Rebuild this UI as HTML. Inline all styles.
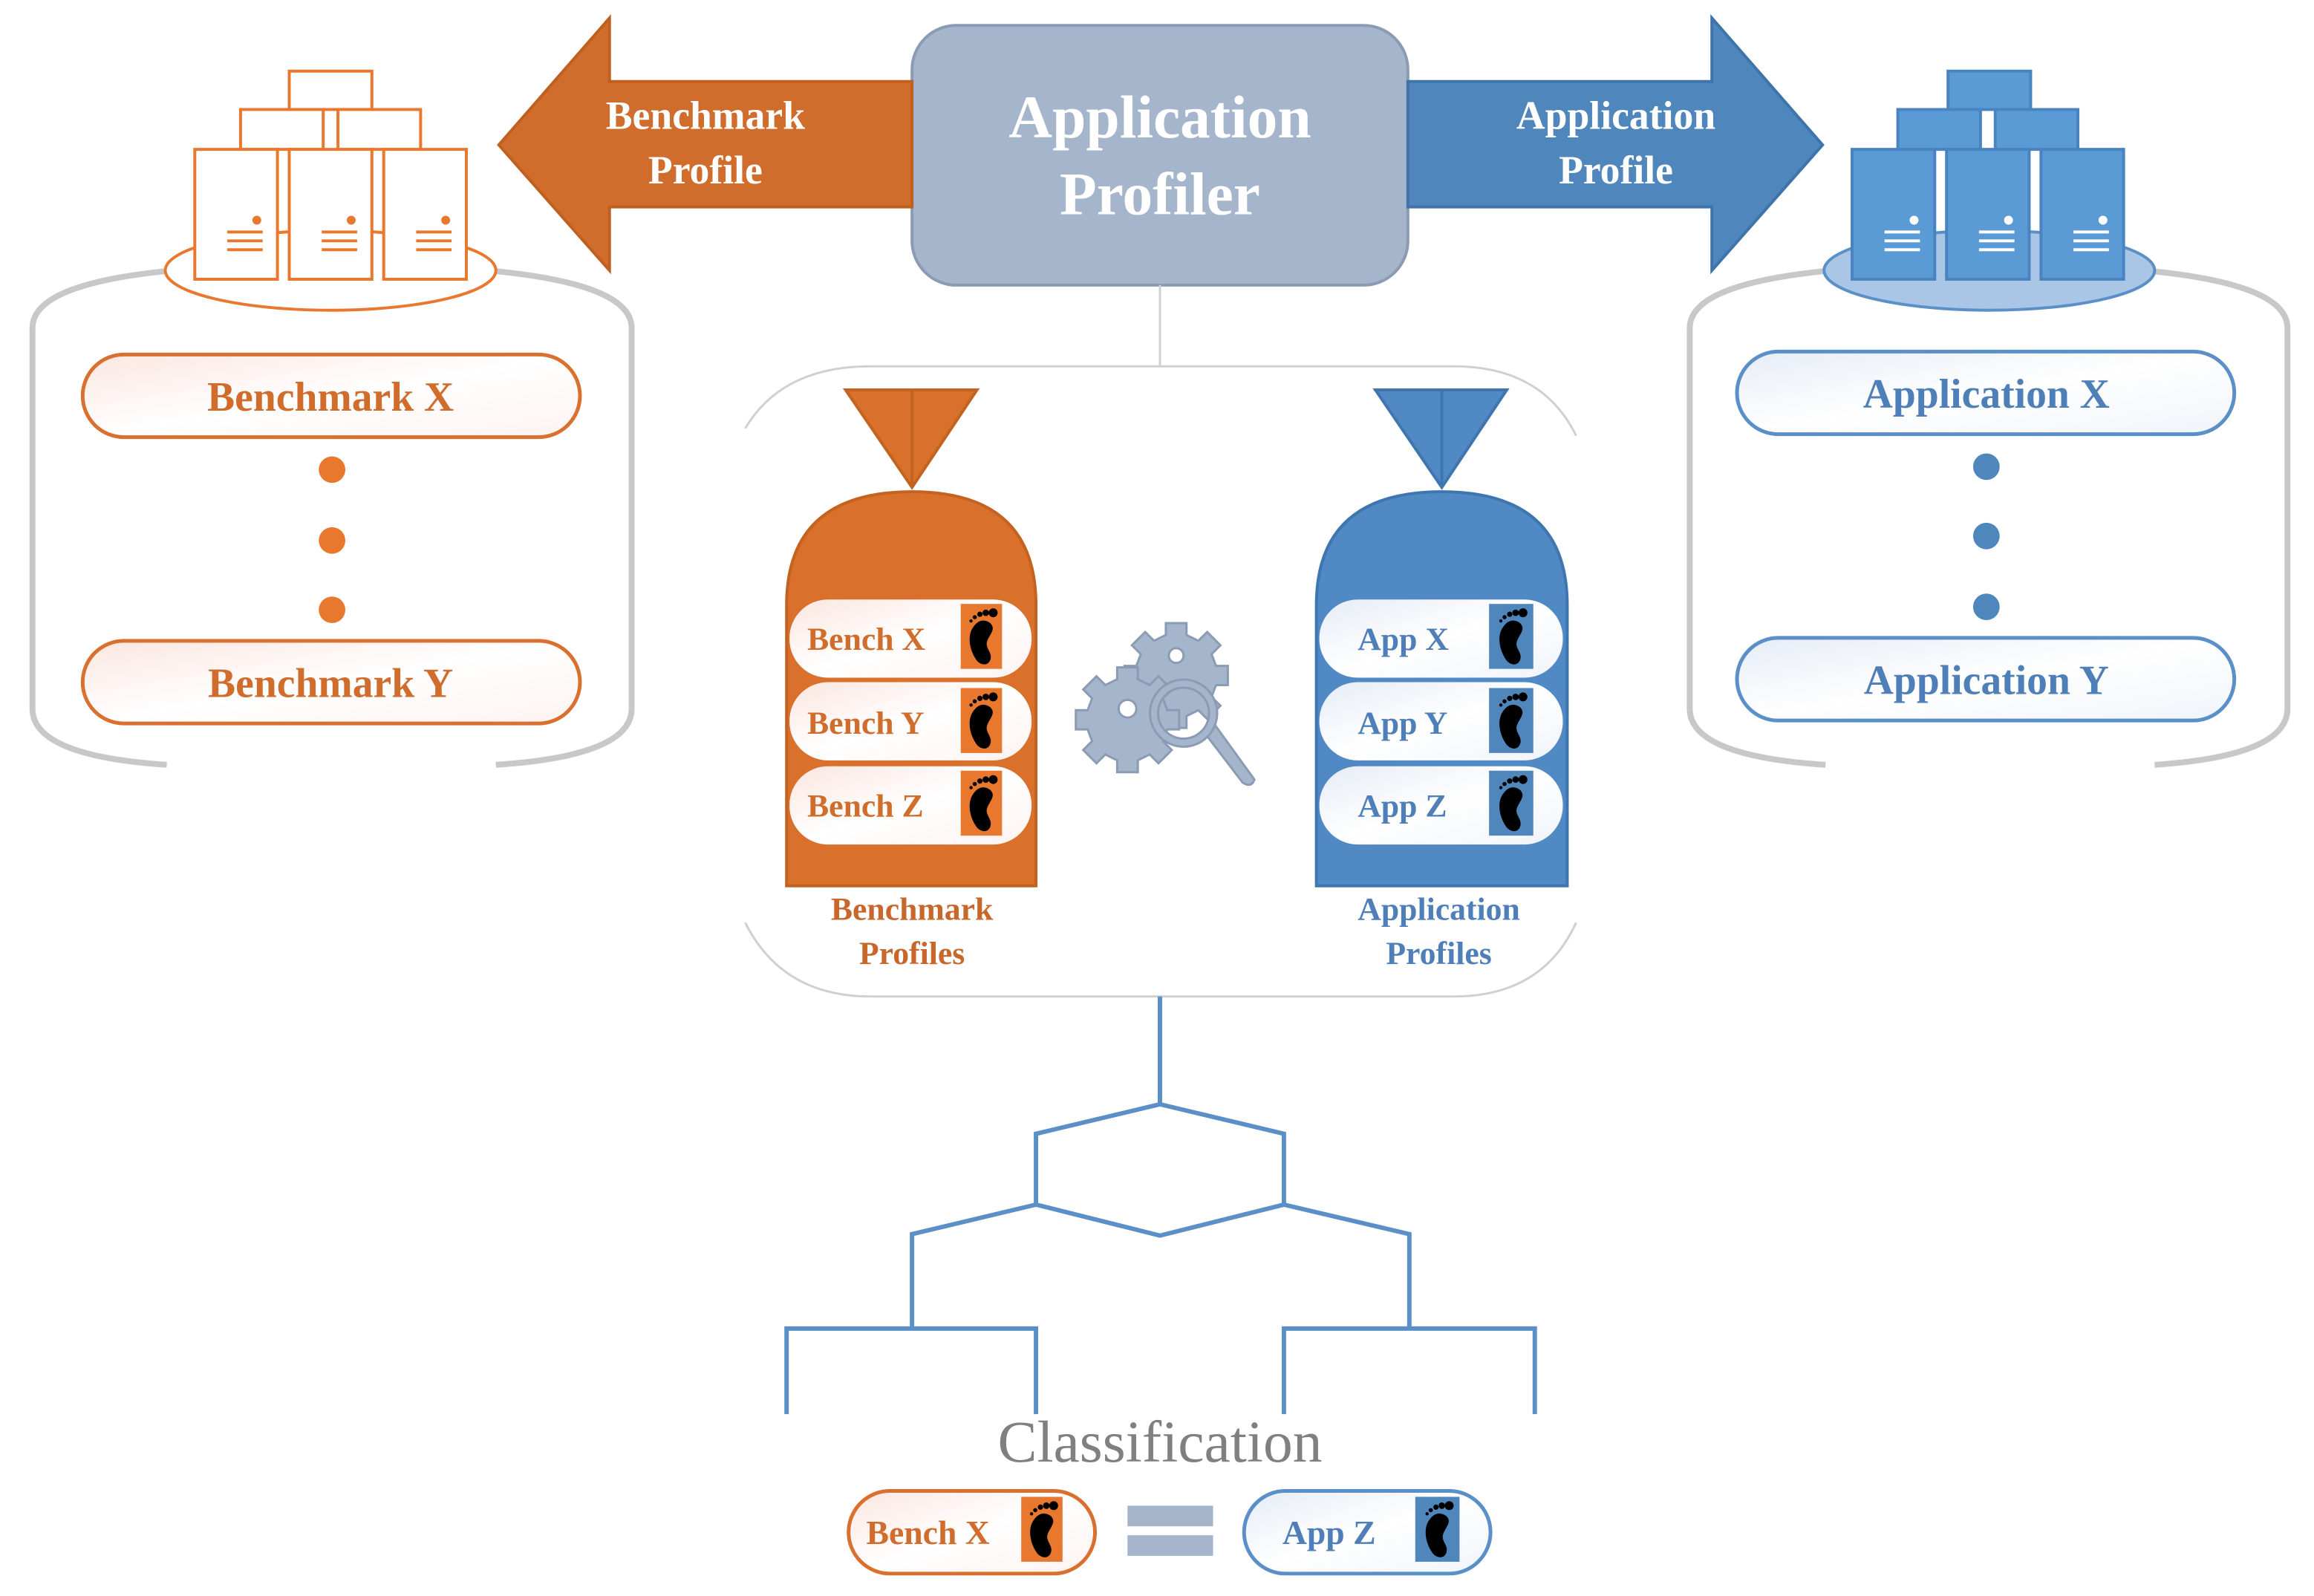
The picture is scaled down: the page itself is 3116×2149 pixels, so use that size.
<!DOCTYPE html>
<html><head><meta charset="utf-8"><style>
html,body{margin:0;padding:0;background:#fff;width:3116px;height:2149px;overflow:hidden}
svg{display:block}
text{font-family:"Liberation Serif",serif;font-weight:bold}
</style></head><body>
<svg width="3116" height="2149" viewBox="0 0 1568 1081" xmlns="http://www.w3.org/2000/svg">
<defs>
<linearGradient id="po" x1="0" y1="0" x2="1" y2="1"><stop offset="0" stop-color="#fbe6df"/><stop offset="0.5" stop-color="#fff"/><stop offset="1" stop-color="#fdf3f0"/></linearGradient>
<linearGradient id="pb" x1="0" y1="0" x2="1" y2="1"><stop offset="0" stop-color="#e6ecf6"/><stop offset="0.5" stop-color="#fff"/><stop offset="1" stop-color="#f0f4fa"/></linearGradient>
<g id="foot">
<path d="M7,14 C2,20 4,30 8,36 C10,40 16,42 18,37 C20,32 14,29 16,24 C18,19 22,16 18,12 C14,9 10,10 7,14Z" fill="#000"/>
<circle cx="20" cy="5" r="3" fill="#000"/><circle cx="15" cy="5" r="2.2" fill="#000"/><circle cx="11" cy="6" r="1.8" fill="#000"/><circle cx="7.5" cy="8" r="1.4" fill="#000"/><circle cx="5" cy="10.5" r="1.1" fill="#000"/>
</g>
<g id="srvO"><rect width="56" height="88" fill="#fff" stroke="#e8782e" stroke-width="2"/><circle cx="42" cy="48" r="3" fill="#e8782e"/><path d="M22,56h24M22,62h24M22,68h24" stroke="#e8782e" stroke-width="2"/></g>
<g id="srvB"><rect width="56" height="88" fill="#5b9bd5" stroke="#4a84c0" stroke-width="2"/><circle cx="42" cy="48" r="3" fill="#fff"/><path d="M22,56h24M22,62h24M22,68h24" stroke="#fff" stroke-width="2"/></g>
</defs>

<rect x="618" y="17" width="336" height="176" rx="30" fill="#a5b5cc" stroke="#8b9bb4" stroke-width="2"/>
<text x="786" y="93" font-size="41" fill="#fff" text-anchor="middle">Application</text>
<text x="786" y="145" font-size="41" fill="#fff" text-anchor="middle">Profiler</text>

<polygon points="618,55 413,55 413,12 338,98 413,183 413,140 618,140" fill="#d06c2c" stroke="#c0601f" stroke-width="2"/>
<text x="478" y="87" font-size="27" fill="#fff" text-anchor="middle">Benchmark</text>
<text x="478" y="124" font-size="27" fill="#fff" text-anchor="middle">Profile</text>
<polygon points="954,55 1160,55 1160,12 1235,98 1160,183 1160,140 954,140" fill="#4f87bd" stroke="#3f74aa" stroke-width="2"/>
<text x="1095" y="87" font-size="27" fill="#fff" text-anchor="middle">Application</text>
<text x="1095" y="124" font-size="27" fill="#fff" text-anchor="middle">Profile</text>

<path d="M130,182 Q22,190 22,222 L22,480 Q22,512 113,518" fill="none" stroke="#c8c8c8" stroke-width="4"/>
<path d="M318,182 Q428,190 428,222 L428,480 Q428,512 336,518" fill="none" stroke="#c8c8c8" stroke-width="4"/>
<ellipse cx="224" cy="183" rx="112" ry="27" fill="#fff" stroke="#e8782e" stroke-width="2"/>
<rect x="196" y="48" width="56" height="26" fill="#fff" stroke="#e8782e" stroke-width="2"/>
<rect x="163" y="74" width="56" height="27" fill="#fff" stroke="#e8782e" stroke-width="2"/>
<rect x="229" y="74" width="56" height="27" fill="#fff" stroke="#e8782e" stroke-width="2"/>
<use href="#srvO" x="132" y="101"/><use href="#srvO" x="196" y="101"/><use href="#srvO" x="260" y="101"/>
<rect x="56" y="240" width="337" height="56" rx="28" fill="url(#po)" stroke="#d9702f" stroke-width="2.5"/>
<text x="224" y="278" font-size="28" fill="#d06c2c" text-anchor="middle">Benchmark X</text>
<circle cx="225" cy="318" r="9" fill="#e8782e"/><circle cx="225" cy="366" r="9" fill="#e8782e"/><circle cx="225" cy="413" r="9" fill="#e8782e"/>
<rect x="56" y="434" width="337" height="56" rx="28" fill="url(#po)" stroke="#d9702f" stroke-width="2.5"/>
<text x="224" y="472" font-size="28" fill="#d06c2c" text-anchor="middle">Benchmark Y</text>

<path d="M1254,182 Q1145,190 1145,222 L1145,480 Q1145,512 1237,518" fill="none" stroke="#c8c8c8" stroke-width="4"/>
<path d="M1440,182 Q1550,190 1550,222 L1550,480 Q1550,512 1460,518" fill="none" stroke="#c8c8c8" stroke-width="4"/>
<ellipse cx="1348" cy="183" rx="112" ry="27" fill="#a9c6e6" stroke="#5b8fc7" stroke-width="2"/>
<rect x="1320" y="48" width="56" height="26" fill="#5b9bd5" stroke="#4a84c0" stroke-width="2"/>
<rect x="1286" y="74" width="56" height="27" fill="#5b9bd5" stroke="#4a84c0" stroke-width="2"/>
<rect x="1352" y="74" width="56" height="27" fill="#5b9bd5" stroke="#4a84c0" stroke-width="2"/>
<use href="#srvB" x="1255" y="101"/><use href="#srvB" x="1319" y="101"/><use href="#srvB" x="1383" y="101"/>
<rect x="1177" y="238" width="337" height="56" rx="28" fill="url(#pb)" stroke="#5b8fc7" stroke-width="2.5"/>
<text x="1346" y="276" font-size="28" fill="#4f7fb8" text-anchor="middle">Application X</text>
<circle cx="1346" cy="316" r="9" fill="#4f87bd"/><circle cx="1346" cy="363" r="9" fill="#4f87bd"/><circle cx="1346" cy="411" r="9" fill="#4f87bd"/>
<rect x="1177" y="432" width="337" height="56" rx="28" fill="url(#pb)" stroke="#5b8fc7" stroke-width="2.5"/>
<text x="1346" y="470" font-size="28" fill="#4f7fb8" text-anchor="middle">Application Y</text>

<line x1="786" y1="193" x2="786" y2="248" stroke="#d0d0d0" stroke-width="1.5"/>
<path d="M505,290 Q530,248 590,248 L985,248 Q1045,248 1068,295" fill="none" stroke="#d0d0d0" stroke-width="1.5"/>
<path d="M505,625 Q530,675 590,675 L985,675 Q1045,675 1068,625" fill="none" stroke="#d0d0d0" stroke-width="1.5"/>

<polygon points="573,264 662,264 618,330" fill="#d9712d" stroke="#c4621f" stroke-width="2"/>
<line x1="618" y1="264" x2="618" y2="330" stroke="#c4621f" stroke-width="2"/>
<path d="M533,600 L533,410 Q533,333 618,333 Q702,333 702,410 L702,600 Z" fill="#d9712d" stroke="#c4621f" stroke-width="2"/>
<g font-size="22" fill="#d06c2c">
<rect x="535" y="406" width="164" height="53" rx="26" fill="url(#po)"/><text x="547" y="440">Bench X</text>
<rect x="535" y="462" width="164" height="53" rx="26" fill="url(#po)"/><text x="547" y="497">Bench Y</text>
<rect x="535" y="519" width="164" height="53" rx="26" fill="url(#po)"/><text x="547" y="553">Bench Z</text>
</g>
<rect x="651" y="409" width="28" height="44" fill="#e8782e"/><use href="#foot" x="653" y="410"/>
<rect x="651" y="466" width="28" height="44" fill="#e8782e"/><use href="#foot" x="653" y="467"/>
<rect x="651" y="522" width="28" height="44" fill="#e8782e"/><use href="#foot" x="653" y="523"/>
<text x="618" y="623" font-size="22" fill="#c8672b" text-anchor="middle">Benchmark</text>
<text x="618" y="653" font-size="22" fill="#c8672b" text-anchor="middle">Profiles</text>

<polygon points="932,264 1021,264 977,330" fill="#5089c4" stroke="#3f76b0" stroke-width="2"/>
<line x1="977" y1="264" x2="977" y2="330" stroke="#3f76b0" stroke-width="2"/>
<path d="M892,600 L892,410 Q892,333 977,333 Q1062,333 1062,410 L1062,600 Z" fill="#5089c4" stroke="#3f76b0" stroke-width="2"/>
<g font-size="22" fill="#4f7fb8">
<rect x="894" y="406" width="165" height="53" rx="26" fill="url(#pb)"/><text x="920" y="440">App X</text>
<rect x="894" y="462" width="165" height="53" rx="26" fill="url(#pb)"/><text x="920" y="497">App Y</text>
<rect x="894" y="519" width="165" height="53" rx="26" fill="url(#pb)"/><text x="920" y="553">App Z</text>
</g>
<rect x="1009" y="409" width="30" height="44" fill="#4f87bd"/><use href="#foot" x="1012" y="410"/>
<rect x="1009" y="466" width="30" height="44" fill="#4f87bd"/><use href="#foot" x="1012" y="467"/>
<rect x="1009" y="522" width="30" height="44" fill="#4f87bd"/><use href="#foot" x="1012" y="523"/>
<text x="975" y="623" font-size="22" fill="#4f7fb8" text-anchor="middle">Application</text>
<text x="975" y="653" font-size="22" fill="#4f7fb8" text-anchor="middle">Profiles</text>

<g fill="#a5b5cc" stroke="#8b9bb4" stroke-width="1.5" transform="translate(8,0)">
<path d="M782,422h14v8l8,4 6,-6 9,9 -6,6 3,8h8v13h-8l-3,8 6,6 -9,9 -6,-6 -8,4v8h-14v-8l-8,-4 -6,6 -9,-9 6,-6 -3,-8h-8v-13h8l3,-8 -6,-6 9,-9 6,6 8,-4z"/>
<circle cx="789" cy="444" r="5" fill="#fff"/>
<path d="M749,452h14v8l8,4 6,-6 9,9 -6,6 3,8h8v13h-8l-3,8 6,6 -9,9 -6,-6 -8,4v8h-14v-8l-8,-4 -6,6 -9,-9 6,-6 -3,-8h-8v-13h8l3,-8 -6,-6 9,-9 6,6 8,-4z"/>
<circle cx="756" cy="480" r="6" fill="#fff"/>
<path d="M808,496 L834,530 Q840,534 842,528 L816,492Z"/>
<circle cx="794" cy="483" r="20" fill="none" stroke="#8b9bb4" stroke-width="7"/>
<circle cx="794" cy="483" r="20" fill="none" stroke="#a5b5cc" stroke-width="4"/>
</g>

<g fill="none" stroke="#5b8fc7" stroke-width="3">
<path d="M786,675 V748"/>
<path d="M786,748 L870,768 V816 L786,837 L702,816 V768 Z"/>
<path d="M702,816 L618,836 V900 M870,816 L955,836 V900"/>
<path d="M533,958 V900 H702 V958"/>
<path d="M870,958 V900 H1040 V958"/>
</g>
<text x="786" y="990" font-size="40" fill="#808080" text-anchor="middle" style="font-weight:normal">Classification</text>

<rect x="575" y="1010" width="167" height="56" rx="28" fill="url(#po)" stroke="#d9702f" stroke-width="2.5"/>
<text x="587" y="1046" font-size="23" fill="#d06c2c">Bench X</text>
<rect x="692" y="1014" width="28" height="44" fill="#e8782e"/><use href="#foot" x="694" y="1015"/>
<rect x="764" y="1020" width="58" height="14" fill="#a5b5cc"/>
<rect x="764" y="1040" width="58" height="14" fill="#a5b5cc"/>
<rect x="843" y="1010" width="167" height="56" rx="28" fill="url(#pb)" stroke="#5b8fc7" stroke-width="2.5"/>
<text x="869" y="1046" font-size="23" fill="#4f7fb8">App Z</text>
<rect x="959" y="1014" width="30" height="44" fill="#4f87bd"/><use href="#foot" x="962" y="1015"/>
</svg>
</body></html>
